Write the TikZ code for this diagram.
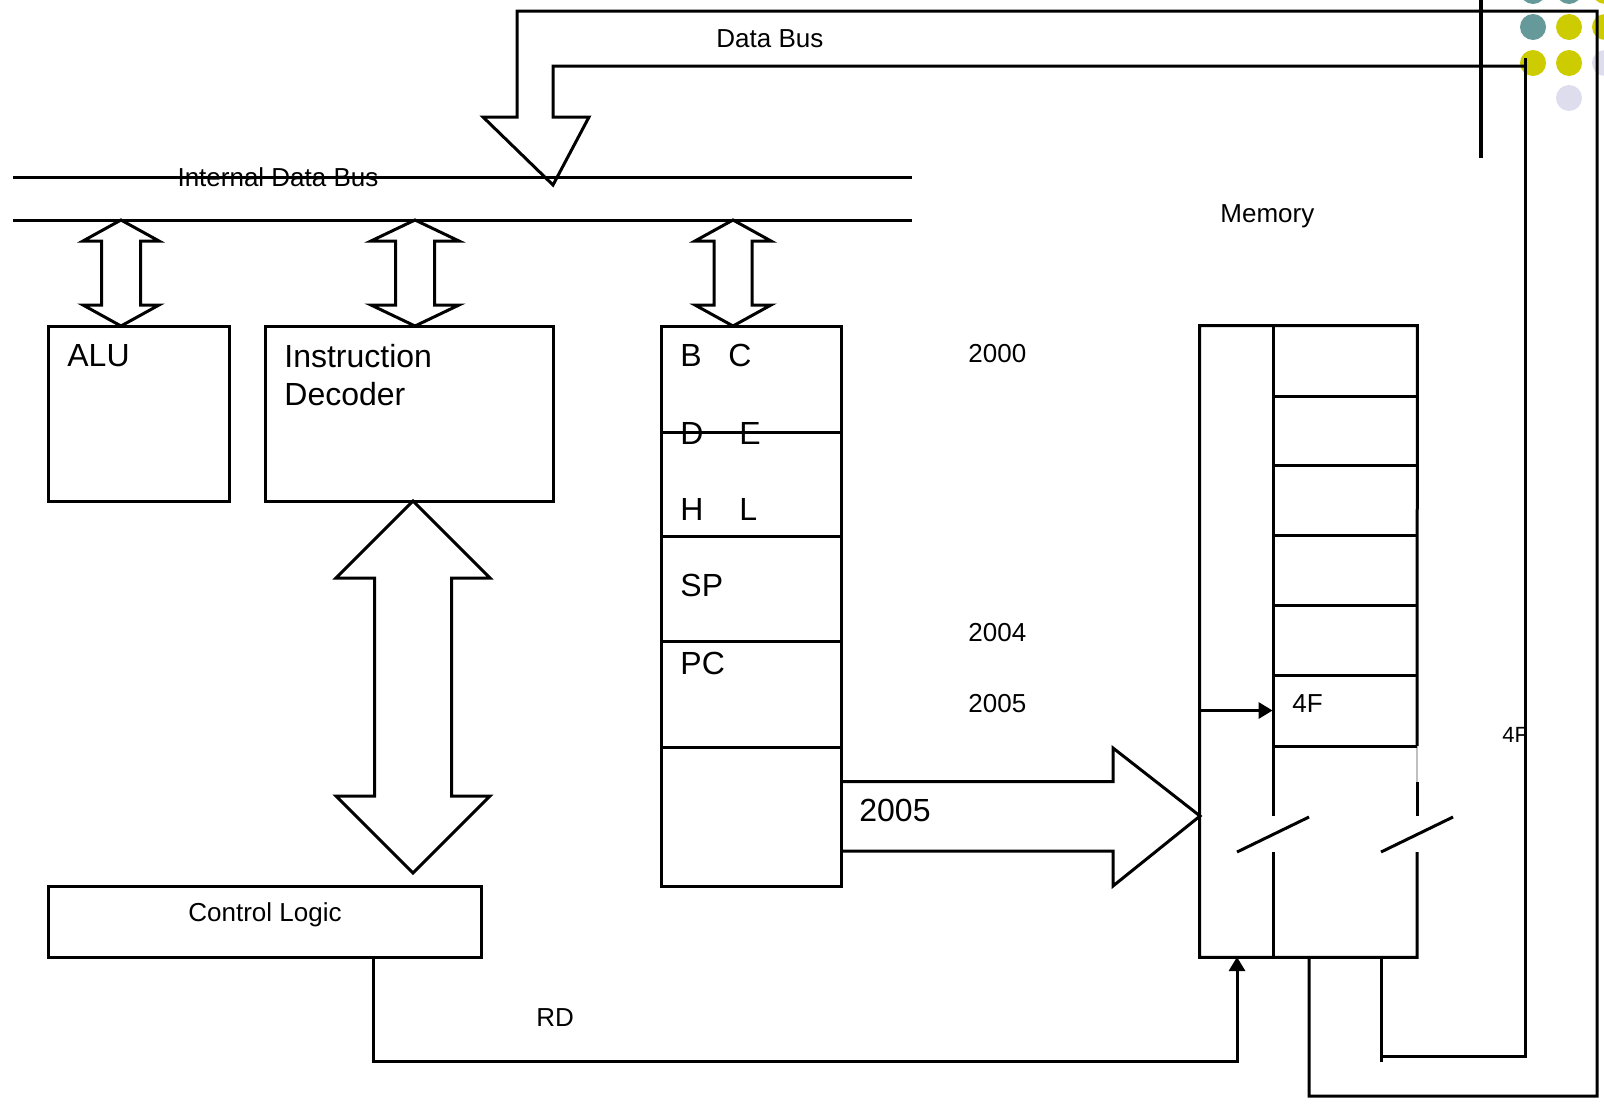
\documentclass[tikz,border=0pt]{standalone}
\usepackage{fontspec}
\setmainfont{Liberation Sans}
\usetikzlibrary{arrows.meta,fit}
\definecolor{dteal}{RGB}{102,153,153}
\definecolor{dyellow}{RGB}{204,204,0}
\definecolor{dlav}{RGB}{221,221,238}
\tikzset{
  ln/.style={line width=1.5pt, line join=miter},
  box/.style={draw, line width=1.5pt, inner sep=0pt},
  area/.style={inner sep=0pt},
  big/.style={font=\fontsize{16}{19}\selectfont, inner sep=0pt, anchor=base west},
  small/.style={font=\fontsize{13}{15}\selectfont, inner sep=0pt, anchor=base west},
  smallc/.style={font=\fontsize{13}{15}\selectfont, inner sep=0pt, anchor=base},
  arr/.style={ln, -{Triangle[length=7pt,width=8pt]}},
}
\newcommand\dblvarrow[6]{% cx, top, bottom, headhalf, shafthalf, headlen
  \draw[ln] (#1,#2) -- (#1+#4,#2+#6) -- (#1+#5,#2+#6) -- (#1+#5,#3-#6)
    -- (#1+#4,#3-#6) -- (#1,#3) -- (#1-#4,#3-#6) -- (#1-#5,#3-#6)
    -- (#1-#5,#2+#6) -- (#1-#4,#2+#6) -- cycle;}
\begin{document}
\begin{tikzpicture}[x=0.5pt,y=-0.5pt]
\useasboundingbox (0,0) rectangle (1604,1103);
\clip (0,0) rectangle (1604,1103);
% decorative dots
\foreach \cx/\cy/\c in {1533/-9/dteal,1569/-9/dteal,1605/-9/dyellow,
  1533/27/dteal,1569/27/dyellow,1605/27/dyellow,
  1533/63/dyellow,1569/63/dyellow,1605/63/dlav,
  1569/98/dlav}
  \fill[\c] (\cx,\cy) circle[radius=13];
% vertical slide line
\draw[line width=2pt] (1481,-5) -- (1481,158);

% boxes
\node[box, fit={(48,326) (229,501)}] (alu) {};
\node[box, fit={(265,326) (553,501)}] (dec) {};
\node[box, fit={(661,326) (841,886)}] (reg) {};
\node[box, fit={(48,886) (481,957)}] (ctrl) {};
\node[area, fit={(1200,326) (1417,957)}] (mem) {};
\node[area, fit={(1273,675) (1417,746)}] (cell) {};

% internal data bus
\coordinate (ib1w) at (13,177);
\coordinate (ib1e) at (912,177);
\coordinate (ib2w) at (13,220);
\coordinate (ib2e) at (912,220);
\draw[ln] (ib1w) -- (ib1e);
\draw[ln] (ib2w) -- (ib2e);
\node[smallc] (ibus) at (278,186.3) {Internal Data Bus};

% bus to unit double arrows
\dblvarrow{121}{220}{326}{38}{19.5}{21}
\dblvarrow{415}{220}{326}{44}{19.5}{21}
\dblvarrow{733}{220}{326}{38}{19}{21}
% decoder <-> control logic
\dblvarrow{413}{501}{873}{77}{38.5}{77}

% register dividers
\draw[ln] (661,432) -- (841,432);
\draw[ln] (661,536) -- (841,536);
\draw[ln] (661,641) -- (841,641);
\draw[ln] (661,747) -- (841,747);

% labels
\node[big] (talu) at (67,366.5) {ALU};
\node[big, align=left, anchor=north west] (tdec) at (284,344) {Instruction\\Decoder};
\node[big] (tb) at (680,366.5) {B};
\node[big] (tc) at (728,366.5) {C};
\node[big] (td) at (680,444.5) {D};
\node[big] (te) at (739,444.5) {E};
\node[big] (th) at (680,520.5) {H};
\node[big] (tl) at (739,520.5) {L};
\node[big] (tsp) at (680,596.5) {SP};
\node[big] (tpc) at (680,674.5) {PC};
\node[big] (t2005b) at (859,821.5) {2005};
\node[smallc] (tctrl) at (265,921.3) {Control Logic};
\node[small] (tdbus) at (716,47.3) {Data Bus};
\node[small] (tmem) at (1220,222.3) {Memory};
\node[small] (a2000) at (968,362.3) {2000};
\node[small] (a2004) at (968,641.3) {2004};
\node[small] (a2005) at (968,712.3) {2005};
\node[small] (t4f) at (1292,712.3) {4F};
\node[small] (trd) at (536,1026.3) {RD};
\begin{scope}
\clip (1490,715) rectangle (1524,755);
\node[font=\fontsize{11}{13}\selectfont, inner sep=0pt, anchor=base west] (t4fs) at (1502,742) {4F};
\end{scope}

% PC -> memory address arrow
\draw[ln] (841,781.5) -- (1113,781.5) -- (1113,748) -- (1200,816)
  -- (1113,886) -- (1113,851) -- (841,851);

% memory outline
\draw[ln] (1417,852) |- (mem.south west) |- (mem.north east) -- (1417,746);
\draw[ln] (1417,782) -- (1417,816);
\draw[line width=0.8pt, black!25] (1417,746) -- (1417,782);
\draw[ln] (1273,326) -- (1273,816);
\draw[ln] (1273,852) -- (1273,957);
\foreach \yy in {396,465.5,535,605.6,675,746}
  \draw[ln] (1273,\yy) -- (1417,\yy);
\draw[ln] (1237,852) -- (1309,817);
\draw[ln] (1381,852) -- (1453,817);
\draw[arr] (mem.west |- cell.west) -- (cell.west);

% RD control line
\coordinate (rdA) at (373,957);
\coordinate (rdB) at (1237,957);
\draw[arr] (rdA) -- (373,1061) -- (1237,1061) -- (rdB);

% data bus (outer and inner lines, arrow into internal bus)
\coordinate (mo) at (1309,957);
\coordinate (mi) at (1381,957);
\draw[ln] (mo) -- (1309,1096) -- (1597,1096) -- (1597,11) -- (517,11)
  -- (517,117) -- (483,117) -- (553,185) -- (589,117) -- (553,117)
  -- (553,66) -- (1525,66);
\draw[ln] (mi) -- (1381,1062);
\draw[ln] (1381,1056) -- (1525,1056) -- (1525,58);
\end{tikzpicture}
\end{document}
